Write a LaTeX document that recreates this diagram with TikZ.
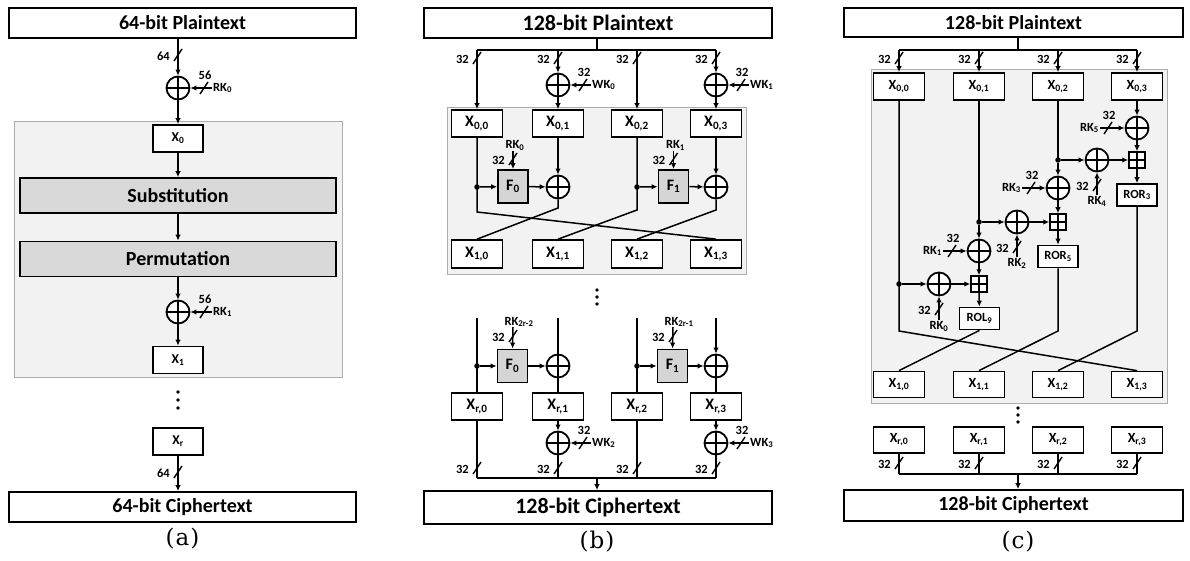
\documentclass[tikz,border=0pt]{standalone}
\usepackage{fontspec}
\setmainfont{Carlito}
\newfontfamily\capfont{DejaVu Serif}
\usetikzlibrary{arrows.meta,calc}

\tikzset{
  wire/.style={line width=1.5pt},
  arr/.style={wire, -{Latex[length=6pt,width=5.5pt]}},
  cutline/.style={line width=1.4pt},
  lbl/.style={inner sep=1pt, font=\bfseries\fontsize{12.5}{14}\selectfont},
  blk/.style={draw, line width=1.7pt, fill=white, inner sep=0pt},
  io/.style={blk, minimum width=347pt, minimum height=30pt, font=\bfseries\fontsize{20}{22}\selectfont},
  stage/.style={blk, fill=gray!30, minimum width=316pt, minimum height=35pt, font=\bfseries\fontsize{20}{22}\selectfont},
  xa/.style={blk, minimum width=50pt, minimum height=27pt, font=\bfseries\fontsize{13.5}{15}\selectfont},
  xb/.style={blk, minimum width=51pt, minimum height=27pt, font=\bfseries\fontsize{16}{18}\selectfont},
  xc/.style={blk, minimum width=51pt, minimum height=27pt, font=\bfseries\fontsize{14}{16}\selectfont},
  fnbox/.style={blk, line width=1.9pt, fill=gray!33, minimum width=30pt, minimum height=33pt, font=\bfseries\fontsize{16}{18}\selectfont},
  rotbox/.style={blk, minimum width=40pt, minimum height=22pt, font=\bfseries\fontsize{12.5}{14}\selectfont},
  bgframe/.style={draw=gray!65, line width=0.8pt, fill=gray!10, inner sep=0pt},
  xorc/.style={circle, draw, line width=1.8pt, fill=white, minimum size=23pt, inner sep=0pt,
    path picture={\draw[line width=1.6pt] (path picture bounding box.north) -- (path picture bounding box.south)
      (path picture bounding box.west) -- (path picture bounding box.east);}},
  addbox/.style={rectangle, draw, line width=1.5pt, fill=white, minimum size=16pt, inner sep=0pt,
    path picture={\draw[line width=1.4pt] (path picture bounding box.north) -- (path picture bounding box.south)
      (path picture bounding box.west) -- (path picture bounding box.east);}},
  jdot/.style={circle, fill, inner sep=0pt, minimum size=5.5pt},
  capt/.style={font=\capfont\fontsize{23}{25}\selectfont}
}

% bus width mark on a vertical wire, label on the left
\newcommand{\vcut}[3]{%
  \draw[cutline] ($(#2)+(-4,6)$) -- ($(#2)+(4,-6)$);
  \node[lbl, anchor=east] (#1) at ($(#2)+(-7,1)$) {#3};}
% bus width mark on a horizontal wire, label above
\newcommand{\hcut}[3]{%
  \draw[cutline] ($(#2)+(-4,6)$) -- ($(#2)+(4,-6)$);
  \node[lbl, anchor=south] (#1) at ($(#2)+(1,-7)$) {#3};}

\begin{document}
\begin{tikzpicture}[x=1pt, y=-1pt]

\useasboundingbox (0,0) rectangle (1190,561);

% Gray round frames (background)
\node[bgframe, minimum width=328pt, minimum height=256pt] (frmA) at (178,249) {};
\node[bgframe, minimum width=299pt, minimum height=167pt] (frmB) at (596.5,190.5) {};
\node[bgframe, minimum width=296pt, minimum height=334pt] (frmC) at (1019,236) {};

% ===== (a) SPN =====
\node[io] (ptA) at (182.5,23) {64-bit Plaintext};
\node[xorc] (xorA0) at (178,88) {};
\node[xa] (xA0) at (178,138.5) {X\textsubscript{0}};
\node[stage] (sub) at (178,195.5) {Substitution};
\node[stage] (perm) at (178,259) {Permutation};
\node[xorc] (xorA1) at (178,312) {};
\node[xa] (xA1) at (178,360) {X\textsubscript{1}};
\node[xa] (xAr) at (178,441.5) {X\textsubscript{r}};
\node[io] (ctA) at (182.5,507) {64-bit Ciphertext};
\node[capt] (capA) at (182.5,539) {(\kern1pt a\kern1pt)};

\draw[arr] (ptA.south -| xorA0) -- (xorA0.north);
\vcut{nA0}{178,55}{64}
\coordinate (rkA0) at (212,88);
\draw[arr] (rkA0) -- (xorA0.east);
\hcut{nA1}{204,88}{56}
\node[lbl, anchor=west] (rkA0l) at (rkA0) {RK\textsubscript{0}};
\draw[arr] (xorA0) -- (xA0);
\draw[arr] (xA0) -- (sub);
\draw[arr] (sub) -- (perm);
\draw[arr] (perm) -- (xorA1);
\coordinate (rkA1) at (212,312);
\draw[arr] (rkA1) -- (xorA1.east);
\hcut{nA2}{204,312}{56}
\node[lbl, anchor=west] (rkA1l) at (rkA1) {RK\textsubscript{1}};
\draw[arr] (xorA1) -- (xA1);
\fill (178,392) circle (1.8) (178,400) circle (1.8) (178,408) circle (1.8);
\draw[arr] (xAr) -- (ctA.north -| xAr);
\vcut{nA3}{178,472}{64}

% ===== (b) Feistel =====
\node[io, minimum width=348pt, font=\bfseries\fontsize{22}{24}\selectfont] (ptB) at (598,23) {128-bit Plaintext};
\coordinate (busB) at (597,50);
\node[xb] (xB00) at (477,123.5) {X\textsubscript{0,0}};
\node[xb] (xB01) at (558,123.5) {X\textsubscript{0,1}};
\node[xb] (xB02) at (637,123.5) {X\textsubscript{0,2}};
\node[xb] (xB03) at (716,123.5) {X\textsubscript{0,3}};
\node[xorc] (wB0) at (558,85) {};
\node[xorc] (wB1) at (716,85) {};

\draw[wire] (ptB.south -| busB) -- (busB);
\draw[wire] (xB00 |- busB) -- (xB03 |- busB);
\draw[arr] (xB00 |- busB) -- (xB00.north);
\vcut{nB0}{477,58}{32}
\draw[arr] (xB01 |- busB) -- (wB0.north);
\vcut{nB1}{558,58}{32}
\draw[arr] (wB0) -- (xB01);
\draw[arr] (xB02 |- busB) -- (xB02.north);
\vcut{nB2}{637,58}{32}
\draw[arr] (xB03 |- busB) -- (wB1.north);
\vcut{nB3}{716,58}{32}
\draw[arr] (wB1) -- (xB03);
\coordinate (wkB0) at (591,85);
\draw[arr] (wkB0) -- (wB0.east);
\hcut{nB4}{583,85}{32}
\node[lbl, anchor=west] (wkB0l) at (wkB0) {WK\textsubscript{0}};
\coordinate (wkB1) at (749,85);
\draw[arr] (wkB1) -- (wB1.east);
\hcut{nB5}{741,85}{32}
\node[lbl, anchor=west] (wkB1l) at (wkB1) {WK\textsubscript{1}};

% first round
\node[fnbox] (fB0) at (513,186.5) {F\textsubscript{0}};
\node[fnbox] (fB1) at (673.5,186.5) {F\textsubscript{1}};
\node[xorc] (xoB0) at (558,187) {};
\node[xorc] (xoB1) at (716,187) {};
\node[jdot] (dB0) at (477,187) {};
\node[jdot] (dB1) at (637,187) {};
\node[xb, minimum height=28pt] (xB10) at (477,254) {X\textsubscript{1,0}};
\node[xb, minimum height=28pt] (xB11) at (558,254) {X\textsubscript{1,1}};
\node[xb, minimum height=28pt] (xB12) at (637,254) {X\textsubscript{1,2}};
\node[xb, minimum height=28pt] (xB13) at (716,254) {X\textsubscript{1,3}};

\draw[wire] (xB00) -- (dB0.center) -- (477,212) -- (xB13.north);
\draw[arr] (dB0) -- (fB0);
\draw[arr] (fB0) -- (xoB0);
\draw[arr] (xB01) -- (xoB0);
\draw[wire] (xoB0.south) -- (558,208) -- (xB10.north);
\draw[wire] (xB02) -- (dB1.center) -- (637,210) -- (xB11.north);
\draw[arr] (dB1) -- (fB1);
\draw[arr] (fB1) -- (xoB1);
\draw[arr] (xB03) -- (xoB1);
\draw[wire] (xoB1.south) -- (716,210) -- (xB12.north);
\coordinate (rkB0) at (513,151);
\draw[arr] (rkB0) -- (fB0.north);
\vcut{nB6}{513,159}{32}
\node[lbl, anchor=south] (rkB0l) at (515,152) {RK\textsubscript{0}};
\coordinate (rkB1) at (673.5,151);
\draw[arr] (rkB1) -- (fB1.north);
\vcut{nB7}{673.5,159}{32}
\node[lbl, anchor=south] (rkB1l) at (675.5,152) {RK\textsubscript{1}};

\fill (597,290) circle (1.8) (597,297) circle (1.8) (597,304) circle (1.8);

% last round
\node[fnbox] (fB2) at (512.5,366) {F\textsubscript{0}};
\node[fnbox] (fB3) at (672.5,366) {F\textsubscript{1}};
\node[xorc] (xoB2) at (558,366) {};
\node[xorc] (xoB3) at (716,366) {};
\node[jdot] (dB2) at (477,366) {};
\node[jdot] (dB3) at (637,366) {};
\node[xb] (xBr0) at (477,406.5) {X\textsubscript{r,0}};
\node[xb] (xBr1) at (558,406.5) {X\textsubscript{r,1}};
\node[xb] (xBr2) at (637,406.5) {X\textsubscript{r,2}};
\node[xb] (xBr3) at (716,406.5) {X\textsubscript{r,3}};
\coordinate (tB0) at (477,318);
\coordinate (tB1) at (558,318);
\coordinate (tB2) at (637,318);
\coordinate (tB3) at (716,318);

\draw[wire] (tB0) -- (xBr0.north);
\draw[arr] (dB2) -- (fB2);
\draw[arr] (fB2) -- (xoB2);
\draw[wire] (tB1) -- (xoB2.north);
\draw[wire] (xoB2) -- (xBr1);
\draw[wire] (tB2) -- (xBr2.north);
\draw[arr] (dB3) -- (fB3);
\draw[arr] (fB3) -- (xoB3);
\draw[arr] (tB3) -- (xoB3.north);
\draw[wire] (xoB3) -- (xBr3);
\coordinate (rkB2) at (513,327);
\draw[arr] (rkB2) -- (fB2.north);
\vcut{nB8}{513,336}{32}
\node[lbl, anchor=south] (rkB2l) at (519,328) {RK\textsubscript{2r-2}};
\coordinate (rkB3) at (673,327);
\draw[arr] (rkB3) -- (fB3.north);
\vcut{nB9}{673,336}{32}
\node[lbl, anchor=south] (rkB3l) at (679,328) {RK\textsubscript{2r-1}};

\node[xorc] (wB2) at (558,443) {};
\node[xorc] (wB3) at (716,443) {};
\draw[arr] (xBr1) -- (wB2);
\draw[arr] (xBr3) -- (wB3);
\coordinate (wkB2) at (591,443);
\draw[arr] (wkB2) -- (wB2.east);
\hcut{nB10}{583,443}{32}
\node[lbl, anchor=west] (wkB2l) at (wkB2) {WK\textsubscript{2}};
\coordinate (wkB3) at (749,443);
\draw[arr] (wkB3) -- (wB3.east);
\hcut{nB11}{741,443}{32}
\node[lbl, anchor=west] (wkB3l) at (wkB3) {WK\textsubscript{3}};

\node[io, minimum width=348pt, minimum height=33pt, font=\bfseries\fontsize{22}{24}\selectfont] (ctB) at (598,507.5) {128-bit Ciphertext};
\coordinate (busB2) at (597,478);
\draw[wire] (xBr0) -- (xBr0 |- busB2);
\vcut{nB12}{477,468}{32}
\draw[wire] (wB2) -- (wB2 |- busB2);
\vcut{nB13}{558,468}{32}
\draw[wire] (xBr2) -- (xBr2 |- busB2);
\vcut{nB14}{637,468}{32}
\draw[wire] (wB3) -- (wB3 |- busB2);
\vcut{nB15}{716,468}{32}
\draw[wire] (xBr0 |- busB2) -- (xBr3 |- busB2);
\draw[arr] (busB2) -- (ctB.north -| busB2);
\node[capt] (capB) at (597,542) {(\kern1pt b\kern1pt)};

% ===== (c) ARX =====
\node[io, minimum width=339pt, minimum height=29pt] (ptC) at (1013.5,22.5) {128-bit Plaintext};
\coordinate (busC) at (1018,50);
\node[xc] (xC00) at (899,86.5) {X\textsubscript{0,0}};
\node[xc] (xC01) at (979,86.5) {X\textsubscript{0,1}};
\node[xc] (xC02) at (1058,86.5) {X\textsubscript{0,2}};
\node[xc] (xC03) at (1137,86.5) {X\textsubscript{0,3}};

\draw[wire] (ptC.south -| busC) -- (busC);
\draw[wire] (xC00 |- busC) -- (xC03 |- busC);
\draw[arr] (xC00 |- busC) -- (xC00.north);
\vcut{nC0}{899,58}{32}
\draw[arr] (xC01 |- busC) -- (xC01.north);
\vcut{nC1}{979,58}{32}
\draw[arr] (xC02 |- busC) -- (xC02.north);
\vcut{nC2}{1058,58}{32}
\draw[arr] (xC03 |- busC) -- (xC03.north);
\vcut{nC3}{1137,58}{32}

\node[xorc] (kC5) at (1137,128) {};
\node[addbox] (aC2) at (1137,160) {};
\node[rotbox] (ror3) at (1137,195) {ROR\textsubscript{3}};
\node[jdot] (dC2) at (1058,160) {};
\node[xorc] (kC4) at (1097,160) {};
\node[xorc] (kC3) at (1058,188) {};
\node[addbox] (aC1) at (1058,222) {};
\node[rotbox] (ror5) at (1058,256.5) {ROR\textsubscript{5}};
\node[jdot] (dC1) at (979,222) {};
\node[xorc] (kC2) at (1017,222) {};
\node[xorc] (kC1) at (979,251) {};
\node[addbox] (aC0) at (979,284) {};
\node[rotbox] (rol9) at (979.5,318.5) {ROL\textsubscript{9}};
\node[jdot] (dC0) at (899,284) {};
\node[xorc] (kC0) at (939,284) {};

\node[xc, minimum height=26pt] (xC10) at (899,384.5) {X\textsubscript{1,0}};
\node[xc, minimum height=26pt] (xC11) at (979,384.5) {X\textsubscript{1,1}};
\node[xc, minimum height=26pt] (xC12) at (1058,384.5) {X\textsubscript{1,2}};
\node[xc, minimum height=26pt] (xC13) at (1137,384.5) {X\textsubscript{1,3}};

\draw[arr] (xC03) -- (kC5);
\draw[arr] (kC5) -- (aC2);
\draw[arr] (aC2) -- (ror3);
\draw[wire] (xC02) -- (dC2.center);
\draw[arr] (dC2) -- (kC4);
\draw[arr] (kC4) -- (aC2);
\draw[arr] (dC2) -- (kC3);
\draw[arr] (kC3) -- (aC1);
\draw[arr] (aC1) -- (ror5);
\draw[wire] (xC01) -- (dC1.center);
\draw[arr] (dC1) -- (kC2);
\draw[arr] (kC2) -- (aC1);
\draw[arr] (dC1) -- (kC1);
\draw[arr] (kC1) -- (aC0);
\draw[arr] (aC0) -- (rol9);
\draw[wire] (xC00) -- (dC0.center) -- (899,331) -- (xC13.north);
\draw[arr] (dC0) -- (kC0);
\draw[arr] (kC0) -- (aC0);
\draw[wire] (rol9.south) -- (xC10.north);
\draw[wire] (ror5) -- (1058,331) -- (xC11.north);
\draw[wire] (ror3) -- (1137,331) -- (xC12.north);

% round keys
\coordinate (rkC5) at (1100,128);
\draw[arr] (rkC5) -- (kC5.west);
\hcut{nC4}{1108,128}{32}
\node[lbl, anchor=east] (rkC5l) at (rkC5) {RK\textsubscript{5}};
\coordinate (rkC4) at (1097,195);
\draw[arr] (rkC4) -- (kC4.south);
\vcut{nC5}{1097,185}{32}
\node[lbl, anchor=north] (rkC4l) at (rkC4) {RK\textsubscript{4}};
\coordinate (rkC3) at (1022,188);
\draw[arr] (rkC3) -- (kC3.west);
\hcut{nC6}{1031,188}{32}
\node[lbl, anchor=east] (rkC3l) at (rkC3) {RK\textsubscript{3}};
\coordinate (rkC2) at (1017,257);
\draw[arr] (rkC2) -- (kC2.south);
\vcut{nC7}{1017,247}{32}
\node[lbl, anchor=north] (rkC2l) at (rkC2) {RK\textsubscript{2}};
\coordinate (rkC1) at (943,251);
\draw[arr] (rkC1) -- (kC1.west);
\hcut{nC8}{952,251}{32}
\node[lbl, anchor=east] (rkC1l) at (rkC1) {RK\textsubscript{1}};
\coordinate (rkC0) at (939,320);
\draw[arr] (rkC0) -- (kC0.south);
\vcut{nC9}{939,309}{32}
\node[lbl, anchor=north] (rkC0l) at (rkC0) {RK\textsubscript{0}};

\fill (1018,408) circle (1.8) (1018,415) circle (1.8) (1018,422) circle (1.8);

\node[xc, minimum height=26pt] (xCr0) at (899,440) {X\textsubscript{r,0}};
\node[xc, minimum height=26pt] (xCr1) at (979,440) {X\textsubscript{r,1}};
\node[xc, minimum height=26pt] (xCr2) at (1058,440) {X\textsubscript{r,2}};
\node[xc, minimum height=26pt] (xCr3) at (1137,440) {X\textsubscript{r,3}};
\node[io, minimum width=339pt, minimum height=31pt] (ctC) at (1013.5,505.5) {128-bit Ciphertext};
\coordinate (busC2) at (1018,474);
\draw[wire] (xCr0) -- (xCr0 |- busC2);
\vcut{nC10}{899,463}{32}
\draw[wire] (xCr1) -- (xCr1 |- busC2);
\vcut{nC11}{979,463}{32}
\draw[wire] (xCr2) -- (xCr2 |- busC2);
\vcut{nC12}{1058,463}{32}
\draw[wire] (xCr3) -- (xCr3 |- busC2);
\vcut{nC13}{1137,463}{32}
\draw[wire] (xCr0 |- busC2) -- (xCr3 |- busC2);
\draw[arr] (busC2) -- (ctC.north -| busC2);
\node[capt] (capC) at (1018,542) {(\kern1pt c\kern1pt)};

\end{tikzpicture}
\end{document}
